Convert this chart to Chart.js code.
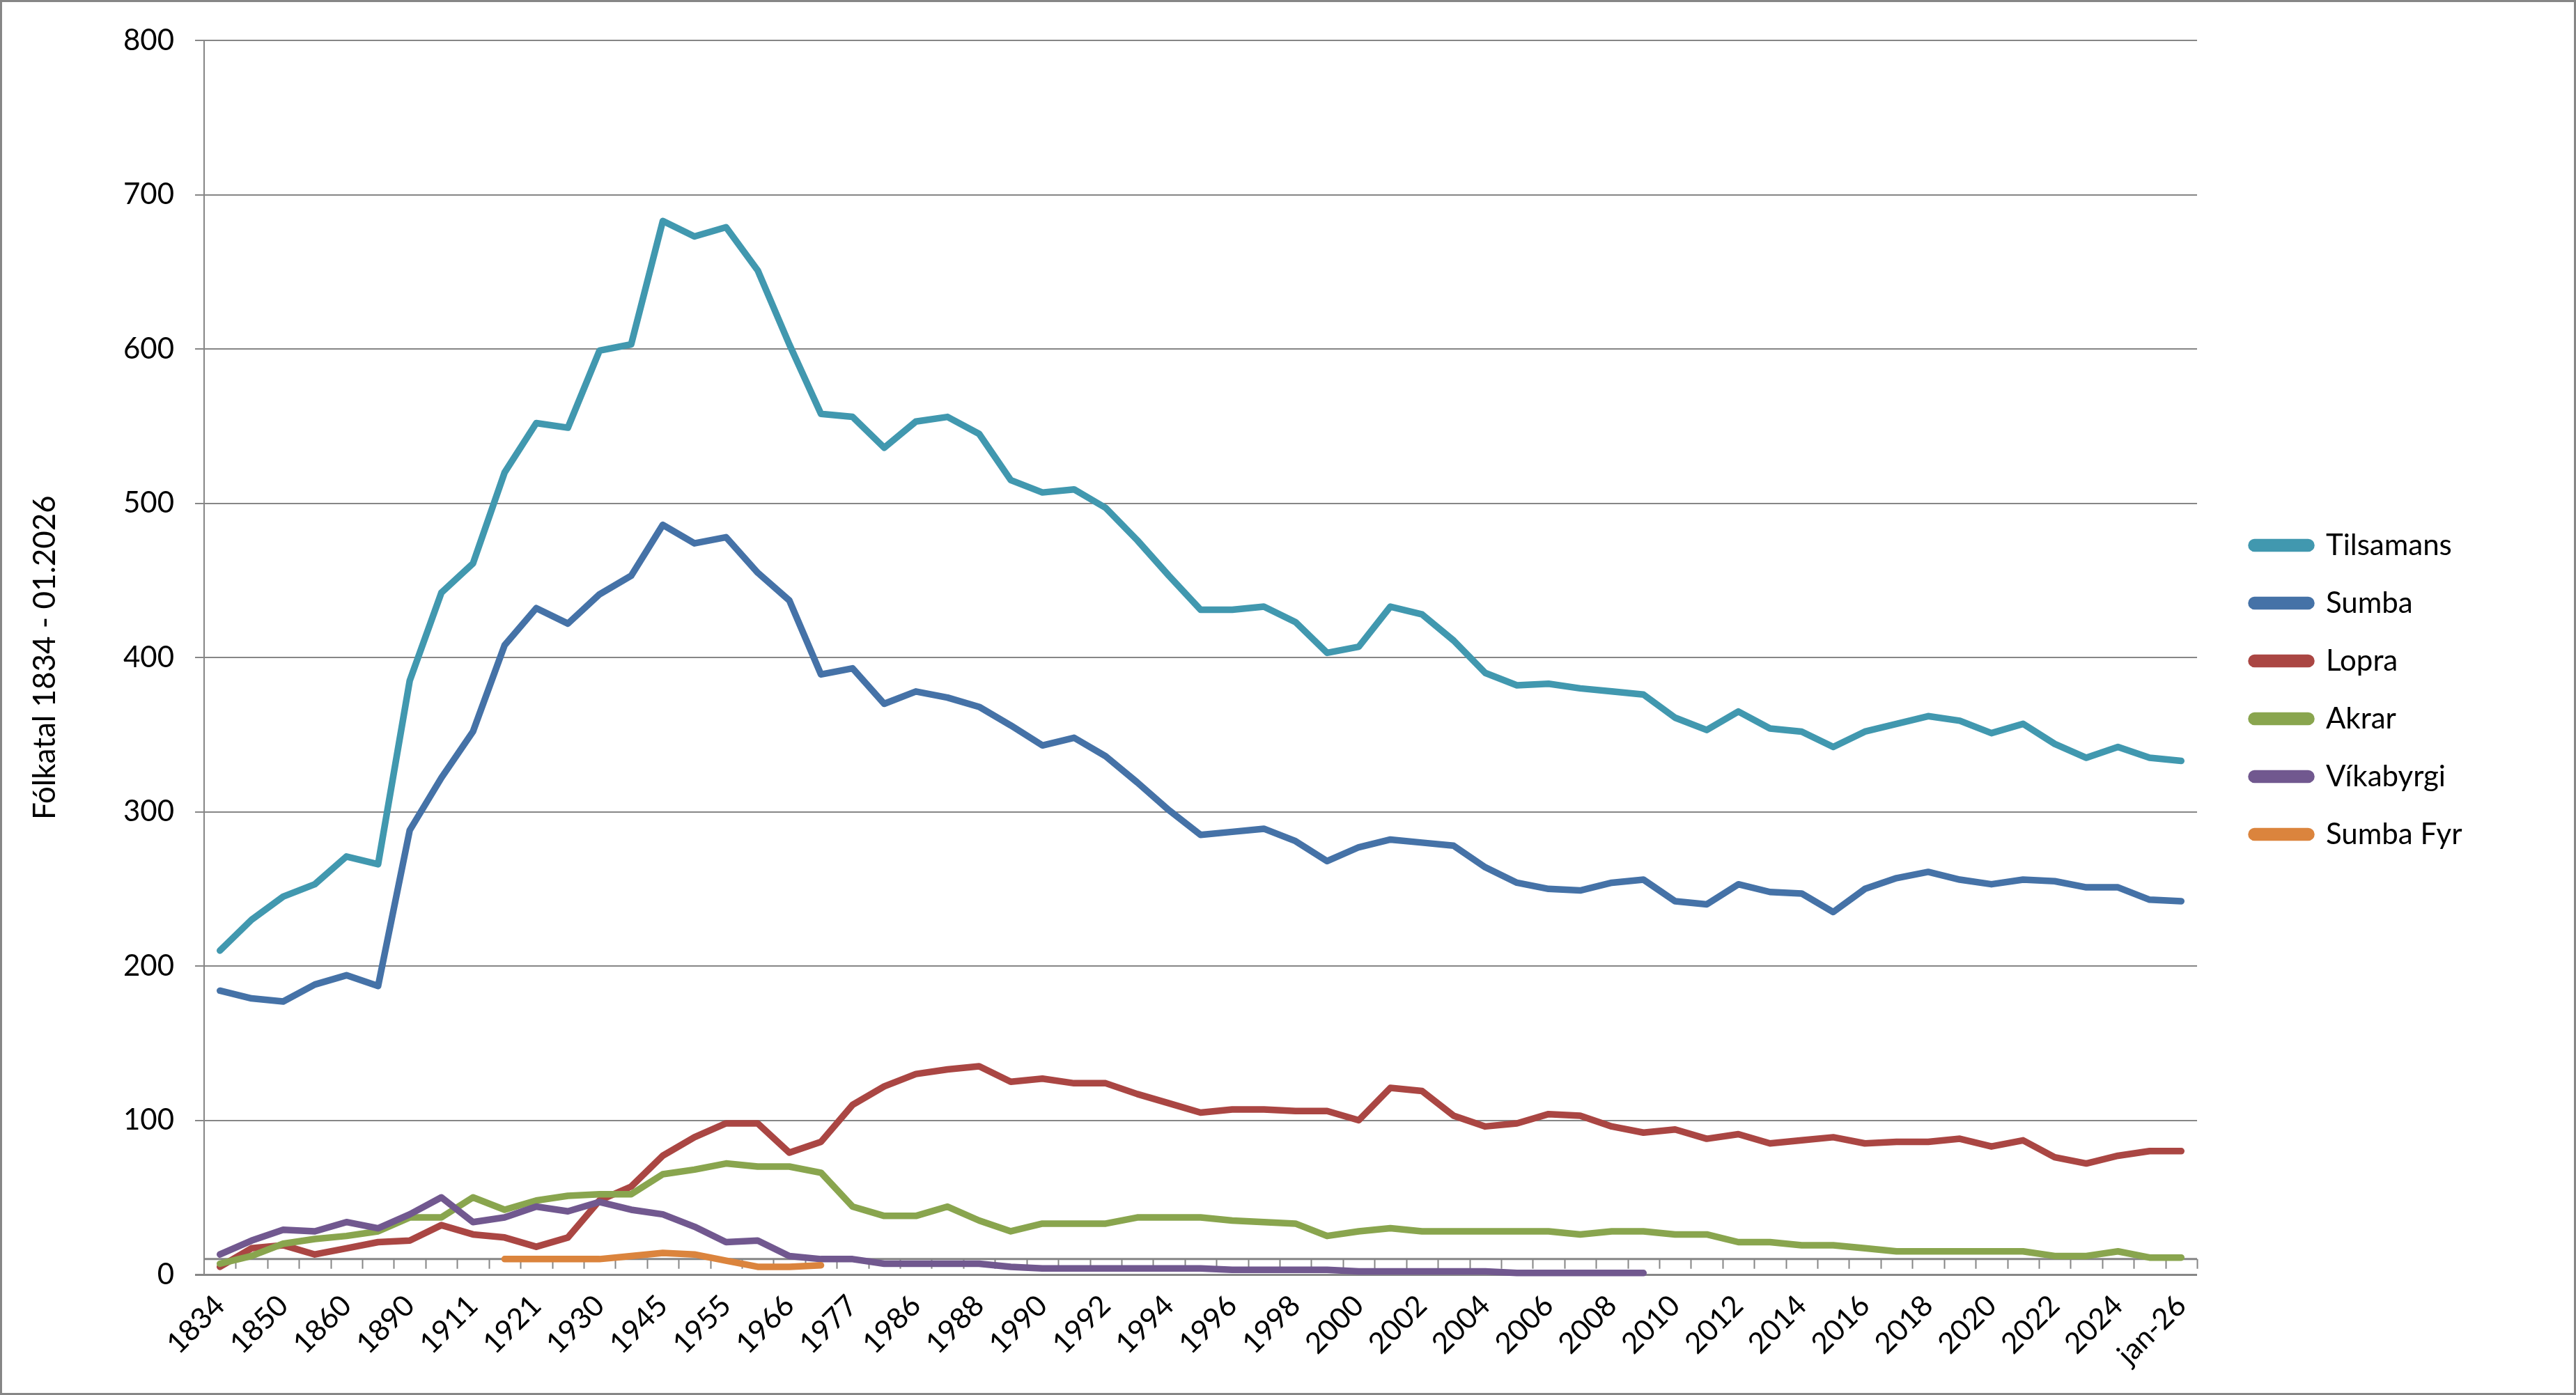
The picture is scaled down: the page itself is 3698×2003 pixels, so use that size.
<!DOCTYPE html>
<html>
<head>
<meta charset="utf-8">
<title>Fólkatal 1834 - 01.2026</title>
<script src="https://cdn.jsdelivr.net/npm/chart.js@4/dist/chart.umd.min.js"></script>
<style>
    html, body { margin: 0; padding: 0; background: #fff; }
    #ramma { width: 3698px; height: 2003px; box-sizing: border-box; border: 3px solid #868686; }
</style>
</head>
<body>
<div id="ramma"><canvas id="graf"></canvas></div>
<script>
// ár (only every second one is written under the axis)
const years = ['1834', '1840', '1850', '1855', '1860', '1870', '1890', '1901', '1911', '1916',
    '1921', '1925', '1930', '1940', '1945', '1950', '1955', '1960', '1966', '1970',
    '1977', '1983', '1986', '1987', '1988', '1989', '1990', '1991', '1992', '1993',
    '1994', '1995', '1996', '1997', '1998', '1999', '2000', '2001', '2002', '2003',
    '2004', '2005', '2006', '2007', '2008', '2009', '2010', '2011', '2012', '2013',
    '2014', '2015', '2016', '2017', '2018', '2019', '2020', '2021', '2022', '2023',
    '2024', '2025', 'jan-26'];

const tilsamans = [210, 230, 245, 253, 271, 266, 385, 442, 461, 520,
    552, 549, 599, 603, 683, 673, 679, 651, 603, 558,
    556, 536, 553, 556, 545, 515, 507, 509, 497, 476,
    453, 431, 431, 433, 423, 403, 407, 433, 428, 411,
    390, 382, 383, 380, 378, 376, 361, 353, 365, 354,
    352, 342, 352, 357, 362, 359, 351, 357, 344, 335,
    342, 335, 333];

const sumba = [184, 179, 177, 188, 194, 187, 288, 322, 352, 408,
    432, 422, 441, 453, 486, 474, 478, 455, 437, 389,
    393, 370, 378, 374, 368, 356, 343, 348, 336, 319,
    301, 285, 287, 289, 281, 268, 277, 282, 280, 278,
    264, 254, 250, 249, 254, 256, 242, 240, 253, 248,
    247, 235, 250, 257, 261, 256, 253, 256, 255, 251,
    251, 243, 242];

const lopra = [5, 17, 19, 13, 17, 21, 22, 32, 26, 24,
    18, 24, 48, 57, 77, 89, 98, 98, 79, 86,
    110, 122, 130, 133, 135, 125, 127, 124, 124, 117,
    111, 105, 107, 107, 106, 106, 100, 121, 119, 103,
    96, 98, 104, 103, 96, 92, 94, 88, 91, 85,
    87, 89, 85, 86, 86, 88, 83, 87, 76, 72,
    77, 80, 80];

const akrar = [7, 12, 20, 23, 25, 28, 37, 37, 50, 42,
    48, 51, 52, 52, 65, 68, 72, 70, 70, 66,
    44, 38, 38, 44, 35, 28, 33, 33, 33, 37,
    37, 37, 35, 34, 33, 25, 28, 30, 28, 28,
    28, 28, 28, 26, 28, 28, 26, 26, 21, 21,
    19, 19, 17, 15, 15, 15, 15, 15, 12, 12,
    15, 11, 11];

const vikabyrgi = [13, 22, 29, 28, 34, 30, 39, 50, 34, 37,
    44, 41, 47, 42, 39, 31, 21, 22, 12, 10,
    10, 7, 7, 7, 7, 5, 4, 4, 4, 4,
    4, 4, 3, 3, 3, 3, 2, 2, 2, 2,
    2, 1, 1, 1, 1, 1, null, null, null, null,
    null, null, null, null, null, null, null, null, null, null,
    null, null, null];

const sumbaFyr = [null, null, null, null, null, null, null, null, null, 10,
    10, 10, 10, 12, 14, 13, 9, 5, 5, 6,
    null, null, null, null, null, null, null, null, null, null,
    null, null, null, null, null, null, null, null, null, null,
    null, null, null, null, null, null, null, null, null, null,
    null, null, null, null, null, null, null, null, null, null,
    null, null, null];

const seriesNames = ['Tilsamans', 'Sumba', 'Lopra', 'Akrar', 'Víkabyrgi', 'Sumba Fyr'];
const seriesData = [tilsamans, sumba, lopra, akrar, vikabyrgi, sumbaFyr];
const seriesColors = ['#4198AF', '#4572A7', '#AA4643', '#89A54E', '#71588F', '#DB843D'];
const yTitle = 'Fólkatal 1834 - 01.2026';
const axisCrossAt = 10;   // the category axis crosses the value axis at 10

const fontSize = 42;
const grey = '#868686';
Chart.defaults.font.family = 'Lato, "Open Sans", sans-serif';
Chart.defaults.font.size = fontSize;
Chart.defaults.color = '#000';

// legend sizes
const legendPad = 83 - fontSize;
const legendBox = 86;
let m = document.createElement('canvas').getContext('2d');
m.font = fontSize + 'px Lato';
let widest = 0;
for (let i = 0; i < seriesNames.length; i++) {
    widest = Math.max(widest, m.measureText(seriesNames[i]).width);
}
let legendLeft = 3229 - legendPad;
let legendWidth = legendPad + legendBox + fontSize / 2 + widest + 10;
let padRight = Math.max(0, 3692 - legendLeft - legendWidth);
let legendTop = 759 - 51 - legendPad - 1.2;   // space above the first legend row

// line at value 10 with small tick marks between the categories
const categoryAxis = {
    id: 'categoryAxis',
    beforeDatasetsDraw(chart) {
        const ctx = chart.ctx;
        const area = chart.chartArea;
        const x = chart.scales.x;
        const y = chart.scales.y;
        const yy = y.getPixelForValue(axisCrossAt);
        const half = (x.getPixelForValue(1) - x.getPixelForValue(0)) / 2;
        ctx.save();
        ctx.strokeStyle = grey;
        ctx.lineWidth = 3;
        ctx.beginPath();
        ctx.moveTo(area.left, yy);
        ctx.lineTo(area.right, yy);
        ctx.stroke();
        ctx.lineWidth = 2;
        ctx.beginPath();
        for (let i = 1; i <= years.length; i++) {
            let px = Math.round(x.getPixelForValue(i) - half) + 0.5;
            ctx.moveTo(px, yy);
            ctx.lineTo(px, yy + 14);
        }
        ctx.stroke();
        ctx.restore();
    }
};

let datasets = [];
for (let i = 0; i < seriesNames.length; i++) {
    datasets.push({
        label: seriesNames[i],
        data: seriesData[i],
        borderColor: seriesColors[i],
        backgroundColor: seriesColors[i],
        borderWidth: 9.5,
        borderCapStyle: 'round',
        borderJoinStyle: 'round',
        pointRadius: 0,
        pointHoverRadius: 0,
        tension: 0,
        spanGaps: false,
        clip: false,
        order: seriesNames.length - i
    });
}

new Chart(document.getElementById('graf'), {
    type: 'line',
    data: {labels: years, datasets: datasets},
    plugins: [categoryAxis],
    options: {
        responsive: true,
        maintainAspectRatio: false,
        animation: false,
        events: [],
        layout: {padding: {left: 10, top: 51, bottom: 0, right: padRight}},
        plugins: {
            tooltip: {enabled: false},
            legend: {
                position: 'right',
                align: 'start',
                title: {display: true, text: ' ', font: {size: 1}, padding: {top: legendTop, bottom: 0}},
                labels: {
                    boxWidth: legendBox,
                    boxHeight: 9,
                    useBorderRadius: true,
                    borderRadius: 4.5,
                    padding: legendPad,
                    font: {size: fontSize},
                    color: '#000',
                    sort: (a, b) => a.datasetIndex - b.datasetIndex
                }
            }
        },
        scales: {
            x: {
                offset: true,
                grid: {display: false, drawTicks: false, offset: true},
                border: {display: false},
                ticks: {
                    autoSkip: false,
                    maxRotation: 45,
                    minRotation: 45,
                    padding: 20,
                    color: '#000',
                    callback: function (value, index) {
                        return index % 2 === 0 ? years[index] : '';
                    }
                },
                afterFit: function (s) { s.height = 170; }
            },
            y: {
                min: 0,
                max: 800,
                ticks: {stepSize: 100, padding: 30, color: '#000'},
                grid: {
                    color: grey,
                    lineWidth: (c) => c.tick && c.tick.value === 0 ? 3 : 2,
                    tickLength: 13
                },
                border: {display: true, color: grey, width: 2},
                title: {
                    display: true,
                    text: yTitle,
                    color: '#000',
                    font: {size: 44},
                    padding: {top: 25, bottom: 0}
                },
                afterFit: function (s) { s.width = 280; }
            },
            // empty scale, only keeps a gap between the plot and the legend
            gap: {
                type: 'linear',
                position: 'right',
                display: true,
                grid: {display: false},
                border: {display: false},
                ticks: {display: false},
                afterFit: function (s) { s.width = 37; }
            }
        }
    }
});
</script>
</body>
</html>
